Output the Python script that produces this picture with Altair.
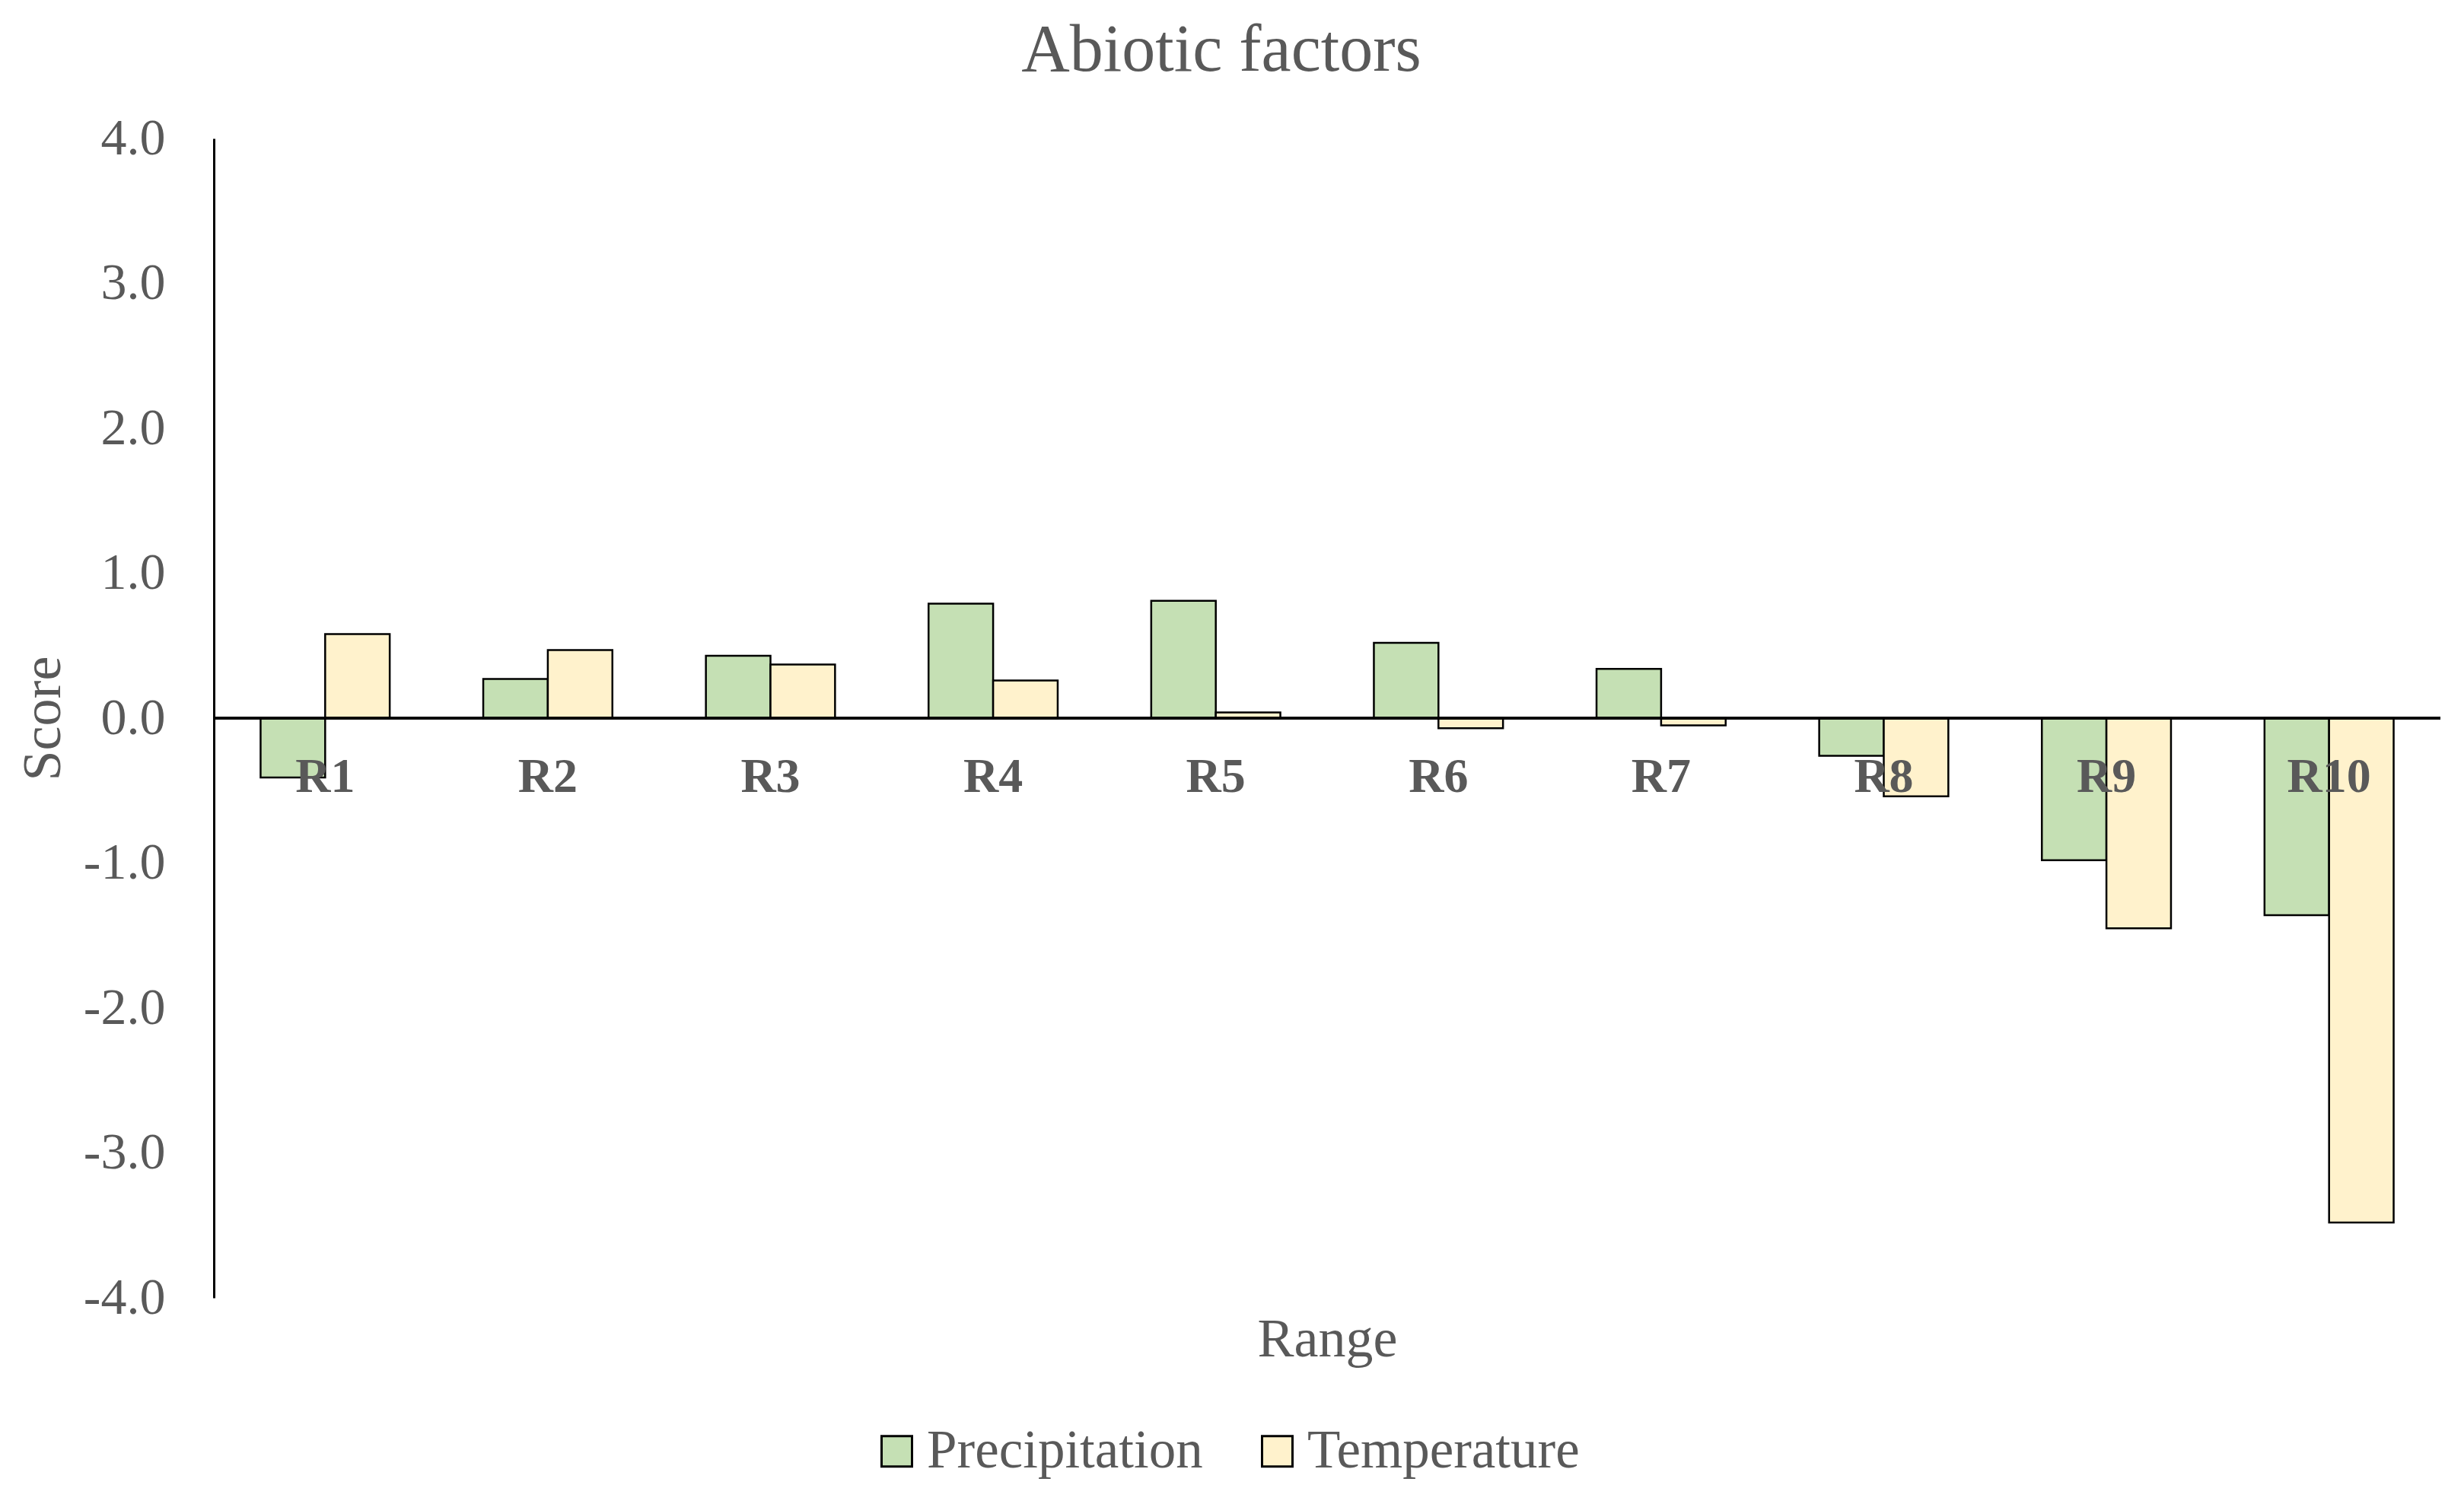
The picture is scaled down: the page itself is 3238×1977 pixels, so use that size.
import altair as alt
import pandas as pd

ranges = ["R1", "R2", "R3", "R4", "R5", "R6", "R7", "R8", "R9", "R10"]
precipitation = [-0.41, 0.27, 0.43, 0.79, 0.81, 0.52, 0.34, -0.26, -0.98, -1.36]
temperature = [0.58, 0.47, 0.37, 0.26, 0.04, -0.07, -0.05, -0.54, -1.45, -3.48]
series_names = ["Precipitation", "Temperature"]
series_colors = ["#C5E0B4", "#FFF2CC"]
y_ticks = [-4, -3, -2, -1, 0, 1, 2, 3, 4]

rows = []
for r, p, t in zip(ranges, precipitation, temperature):
    rows.append({"Range": r, "Series": "Precipitation", "Score": p})
    rows.append({"Range": r, "Series": "Temperature", "Score": t})
df = pd.DataFrame(rows)
lab = pd.DataFrame({"Range": ranges})

FONT = "Liberation Serif"
GRAY = "#595959"

x_enc = alt.X(
    "Range:N",
    sort=ranges,
    title="Range",
    scale=alt.Scale(paddingInner=0.42, paddingOuter=0.21),
    axis=alt.Axis(labels=False, ticks=False, domain=False, grid=False, titlePadding=19,
                  titleFontSize=72, titleFont=FONT, titleColor=GRAY,
                  titleFontWeight="normal"),
)

bars = alt.Chart(df).mark_bar(stroke="black", strokeWidth=2.5).encode(
    x=x_enc,
    xOffset=alt.XOffset("Series:N", sort=series_names),
    y=alt.Y(
        "Score:Q",
        title="Score",
        scale=alt.Scale(domain=[-4, 4], nice=False, zero=False),
        axis=alt.Axis(values=y_ticks, ticks=False, grid=False, domainColor="black",
                      domainWidth=3, labelPadding=64,
                      labelExpr="replace(format(datum.value, '.1f'), '\u2212', '-')",
                      labelFontSize=68, labelFont=FONT, labelColor=GRAY,
                      titleFontSize=72, titleFont=FONT, titleColor=GRAY,
                      titleFontWeight="normal", titleX=-225, titleY=762,
                      titleAngle=-90, titleBaseline="middle", titleAlign="center"),
    ),
    color=alt.Color(
        "Series:N",
        sort=series_names,
        scale=alt.Scale(domain=series_names, range=series_colors),
        legend=alt.Legend(title=None, orient="none", legendX=862, legendY=1690,
                          direction="horizontal", symbolType="square",
                          symbolSize=1600, symbolStrokeColor="black",
                          symbolStrokeWidth=3, labelFontSize=71, labelFont=FONT,
                          labelColor=GRAY, labelOffset=4, columnPadding=62,
                          labelLimit=1000),
    ),
)

zero = alt.Chart(lab).mark_rule(color="black", strokeWidth=2.5).encode(y=alt.datum(0))

labels = alt.Chart(lab).mark_text(
    font=FONT, fontSize=64, fontWeight="bold", color=GRAY, baseline="alphabetic", dy=97
).encode(
    x=alt.X("Range:N", sort=ranges),
    y=alt.datum(0),
    text="Range:N",
)

chart = alt.layer(bars, zero, labels).properties(
    width=2926,
    height=1524,
    title=alt.TitleParams("Abiotic factors", font=FONT, fontSize=88, color=GRAY,
                          fontWeight="normal", offset=37, dx=-139, anchor="middle"),
    autosize=alt.AutoSizeParams(type="none"),
    padding={"left": 273, "top": 174, "right": 20, "bottom": 250},
    view=alt.ViewBackground(stroke="transparent", strokeWidth=0),
).configure_view(strokeWidth=0, stroke="transparent").configure_axis(grid=False).configure(background="white")

chart.save("out.html", embed_options={"renderer": "svg", "actions": False})
